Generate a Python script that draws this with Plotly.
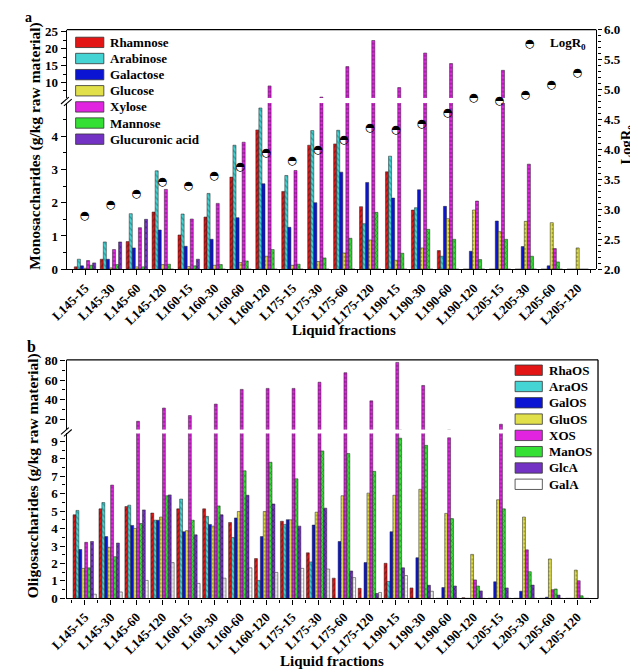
import plotly.graph_objects as go

categories = ["L145-15", "L145-30", "L145-60", "L145-120", "L160-15", "L160-30", "L160-60", "L160-120",
              "L175-15", "L175-30", "L175-60", "L175-120", "L190-15", "L190-30", "L190-60", "L190-120",
              "L205-15", "L205-30", "L205-60", "L205-120"]

# ---- panel a: monosaccharides (g/kg raw material) ----
rhamnose = [0.07, 0.30, 0.83, 1.72, 1.03, 1.57, 2.77, 4.19, 2.34, 3.73, 3.77, 1.88, 2.93, 1.78, 0.56, 0, 0, 0, 0, 0]
arabinose = [0.30, 0.82, 1.67, 2.96, 1.66, 2.28, 3.73, 4.85, 2.82, 4.17, 4.18, 1.37, 3.40, 1.85, 0.39, 0, 0, 0, 0, 0]
galactose = [0.10, 0.30, 0.64, 1.18, 0.69, 0.90, 1.55, 2.57, 1.26, 2.00, 2.92, 2.61, 2.14, 2.39, 1.89, 0.54, 1.45, 0.68, 0.10, 0]
glucose = [0.03, 0.04, 0.07, 0.14, 0.08, 0.12, 0.20, 0.39, 0.12, 0.23, 0.49, 0.88, 0.27, 0.64, 1.52, 1.78, 1.13, 1.44, 1.40, 0.64]
xylose = [0.26, 0.59, 1.25, 2.40, 1.51, 1.98, 3.82, 9.0, 2.97, 5.7, 14.7, 22.4, 8.5, 18.7, 15.6, 2.05, 13.6, 3.16, 0.62, 0]
mannose = [0.12, 0.14, 0.07, 0.15, 0.10, 0.14, 0.25, 0.59, 0.15, 0.34, 0.93, 1.71, 0.48, 1.20, 0.90, 0.29, 0.90, 0.39, 0.22, 0]
glucuronic = [0.19, 0.82, 1.50, 0, 0.30, 0, 0, 0, 0, 0, 0, 0, 0, 0, 0, 0, 0, 0, 0, 0]
log_r0 = [2.88, 3.07, 3.26, 3.46, 3.38, 3.56, 3.70, 3.93, 3.81, 3.99, 4.16, 4.36, 4.32, 4.43, 4.61, 4.85, 4.81, 4.91, 5.07, 5.28]

# ---- panel b: oligosaccharides (g/kg raw material) ----
rhaos = [4.79, 5.13, 5.26, 4.89, 5.13, 5.13, 4.35, 2.28, 4.42, 2.61, 1.16, 0.58, 2.01, 0.60, 0, 0.04, 0, 0, 0, 0]
araos = [5.04, 5.49, 5.34, 4.48, 5.69, 4.70, 3.49, 1.03, 4.24, 2.09, 0, 0, 0.97, 0, 0, 0, 0, 0, 0, 0]
galos = [2.80, 3.54, 4.18, 4.48, 3.82, 4.24, 4.61, 3.54, 4.51, 4.20, 3.26, 2.05, 3.82, 2.33, 0.62, 0, 0.95, 0.41, 0.07, 0]
gluos = [1.72, 2.93, 4.01, 4.66, 3.88, 4.14, 4.98, 4.98, 4.50, 4.94, 5.88, 6.03, 5.91, 6.25, 4.87, 2.52, 5.65, 4.66, 2.26, 1.62]
xos = [3.21, 6.49, 18.0, 31.5, 23.8, 35.5, 50.5, 51.5, 51.5, 57.8, 67.5, 38.8, 78.0, 54.5, 9.2, 1.06, 15.0, 2.78, 0.50, 1.01]
manos = [1.75, 2.39, 4.29, 5.88, 4.48, 5.30, 7.31, 7.80, 6.85, 8.45, 8.30, 7.28, 9.18, 8.77, 4.57, 0.71, 5.13, 1.53, 0.54, 0.15]
glca = [3.26, 3.17, 5.07, 5.93, 3.64, 4.79, 5.91, 5.41, 4.14, 5.17, 1.57, 0.28, 1.75, 0.75, 0.71, 0.43, 0.60, 0.76, 0.19, 0]
gala = [0.24, 0.37, 1.03, 2.05, 0.86, 1.16, 1.75, 1.49, 1.72, 1.68, 1.19, 0.34, 1.31, 0.41, 0, 0, 0, 0, 0, 0]

W, H = 638, 672
def px(x): return x / W
def py(y): return 1 - y / H

SERIF = "Liberation Serif"
idx = list(range(len(categories)))

styles = {
    "red": ("#E31515", "#6E0000", "/"),
    "cyan": ("#45D4D4", "#007070", "\\"),
    "blue": ("#0A14D2", "#000070", ""),
    "yellow": ("#E2E04A", "#7A7A00", "."),
    "magenta": ("#E024E0", "#7A007A", "-"),
    "green": ("#35E035", "#007000", "x"),
    "purple": ("#7432C4", "#2E0062", "x"),
    "white": ("#FFFFFF", "#7A7A7A", "+"),
}

fig = go.Figure()

def add_group(series, xa, ylo, yhi, barw):
    n = len(series)
    for i, (name, vals, sty) in enumerate(series):
        col, fg, shp = styles[sty]
        off = -n * barw / 2 + i * barw
        pat = dict(shape=shp, fgcolor=fg, bgcolor=col, size=4, solidity=0.35) if shp else None
        for ya in (ylo, yhi):
            fig.add_trace(go.Bar(
                x=idx, y=vals, name=name, xaxis=xa, yaxis=ya,
                width=barw, offset=off,
                marker=dict(color=col, line=dict(color="#222222", width=0.5), pattern=pat),
                showlegend=False, hoverinfo="skip"))

top_series = [("Rhamnose", rhamnose, "red"), ("Arabinose", arabinose, "cyan"),
              ("Galactose", galactose, "blue"), ("Glucose", glucose, "yellow"),
              ("Xylose", xylose, "magenta"), ("Mannose", mannose, "green"),
              ("Glucuronic acid", glucuronic, "purple")]
bot_series = [("RhaOS", rhaos, "red"), ("AraOS", araos, "cyan"), ("GalOS", galos, "blue"),
              ("GluOS", gluos, "yellow"), ("XOS", xos, "magenta"), ("ManOS", manos, "green"),
              ("GlcA", glca, "purple"), ("GalA", gala, "white")]

add_group(top_series, "x", "y", "y2", 0.118)
add_group(bot_series, "x2", "y4", "y5", 0.1125)

fig.add_trace(go.Scatter(
    x=idx, y=log_r0, mode="text", text=["\u25D3"] * len(idx), name="LogR0",
    textfont=dict(family="DejaVu Sans", size=11.5, color="black"),
    xaxis="x", yaxis="y3", showlegend=False, hoverinfo="skip"))

tickfont = dict(family=SERIF, size=13, color="black", weight="bold")
ax = dict(showgrid=False, zeroline=False, showline=True, linecolor="black", linewidth=1.3,
          ticks="outside", ticklen=5, tickwidth=1.2, tickcolor="black", tickfont=tickfont)

half = [i + 0.5 for i in range(-1, 20)]
xcommon = dict(ax, tickmode="array", tickvals=idx, ticktext=categories, tickangle=-45,
               minor=dict(tickmode="array", tickvals=half, ticklen=3, ticks="outside", tickcolor="black"))

fig.update_layout(
    width=W, height=H, margin=dict(l=0, r=0, t=0, b=0), showlegend=False,
    paper_bgcolor="white", plot_bgcolor="rgba(0,0,0,0)", barmode="overlay",
    xaxis=dict(xcommon, domain=[px(43), px(587)], range=[-0.7, 19.72], anchor="y"),
    yaxis=dict(ax, domain=[py(260), py(90)], range=[0, 5.0], anchor="x",
               tickmode="array", tickvals=[0, 1, 2, 3, 4],
               minor=dict(tickmode="array", tickvals=[0.5, 1.5, 2.5, 3.5, 4.5], ticklen=3, ticks="outside")),
    yaxis2=dict(ax, domain=[py(85), py(15)], range=[5.4, 25.6], anchor="x",
                tickmode="array", tickvals=[10, 15, 20, 25],
                minor=dict(tickmode="array", tickvals=[7.5, 12.5, 17.5, 22.5], ticklen=3, ticks="outside")),
    yaxis3=dict(ax, domain=[py(260), py(15)], range=[2, 6], anchor="x", side="right",
                tickmode="linear", tick0=2, dtick=0.5, tickformat=".1f", ticklen=4,
                minor=dict(dtick=0.1, ticklen=3, ticks="outside")),
    xaxis2=dict(xcommon, domain=[px(42.7), px(588.7)], range=[-0.7, 19.8], anchor="y4"),
    yaxis4=dict(ax, domain=[py(596.7), py(428)], range=[0, 9.45], anchor="x2",
                tickmode="array", tickvals=list(range(10)),
                minor=dict(tickmode="array", tickvals=[i + 0.5 for i in range(10)], ticklen=3, ticks="outside")),
    yaxis5=dict(ax, domain=[py(424), py(352.7)], range=[9.6, 80.6], anchor="x2",
                tickmode="array", tickvals=[20, 40, 60, 80],
                minor=dict(tickmode="array", tickvals=[30, 50, 70], ticklen=3, ticks="outside")),
)

# frame lines and axis-break marks
line = dict(color="black", width=1.3)
thin = dict(color="black", width=1.1)
shapes = [
    dict(type="line", xref="paper", yref="paper", x0=px(43), x1=px(587), y0=py(15), y1=py(15), line=line),
    dict(type="line", xref="paper", yref="paper", x0=px(42.7), x1=px(588.7), y0=py(352.7), y1=py(352.7), line=line),
    dict(type="line", xref="paper", yref="paper", x0=px(588.7), x1=px(588.7), y0=py(352.7), y1=py(596.7), line=line),
    dict(type="line", xref="paper", yref="paper", x0=px(37), x1=px(45), y0=py(91), y1=py(84), line=thin),
    dict(type="line", xref="paper", yref="paper", x0=px(40), x1=px(48), y0=py(93), y1=py(86), line=thin),
    dict(type="line", xref="paper", yref="paper", x0=px(37), x1=px(45), y0=py(429), y1=py(422), line=thin),
    dict(type="line", xref="paper", yref="paper", x0=px(40), x1=px(48), y0=py(431), y1=py(424), line=thin),
]

bold = lambda s: dict(family=SERIF, size=s, color="black", weight="bold")
ann = [
    dict(text="Liquid fractions", x=px(328), y=py(322), font=bold(15)),
    dict(text="Liquid fractions", x=px(315), y=py(661), font=bold(15)),
    dict(text="Monosaccharides (g/kg raw material)", x=px(10), y=py(134), textangle=-90, font=bold(15.5)),
    dict(text="Oligosaccharides (g/kg raw material)", x=px(9), y=py(471), textangle=-90, font=bold(15.5)),
    dict(text="LogR<sub>0</sub>", x=px(619), y=py(133), textangle=-90, font=bold(14.5)),
    dict(text="a", x=px(4), y=py(3), font=bold(14)),
    dict(text="b", x=px(7), y=py(339), font=bold(16)),
    dict(text="\u25D3", x=px(519), y=py(29), font=dict(family="DejaVu Sans", size=11.5, color="black")),
    dict(text="LogR<sub>0</sub>", x=px(537), y=py(29), xanchor="left", font=bold(13)),
]

# hand-built legends (swatch + label) to match the reference's compact rows
def legend_block(series, x0, x1, ytop, step, xt):
    for i, (name, _, sty) in enumerate(series):
        col = styles[sty][0]
        yc = ytop + i * step
        shapes.append(dict(type="rect", xref="paper", yref="paper",
                           x0=px(x0), x1=px(x1), y0=py(yc + 5.3), y1=py(yc - 5.3),
                           fillcolor=col, line=dict(color="#333333", width=0.8)))
        ann.append(dict(text=name, x=px(xt), y=py(yc), xanchor="left", font=bold(13)))

legend_block(top_series, 52, 81, 28, 16.5, 85)
legend_block(bot_series, 503.5, 531.5, 363.3, 16.67, 536)

for a in ann:
    a.setdefault("xanchor", "center")
    a.update(xref="paper", yref="paper", yanchor="middle", showarrow=False)
fig.update_layout(shapes=shapes, annotations=ann)

fig.write_html("out.html")
